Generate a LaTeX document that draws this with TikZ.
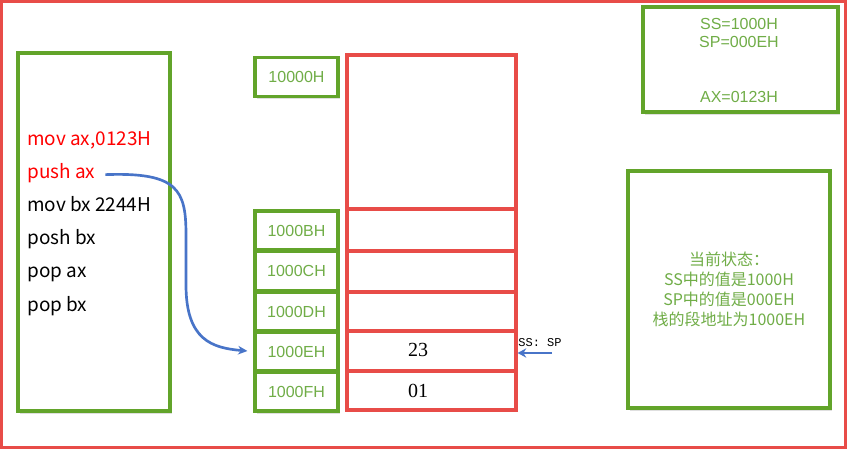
\documentclass[tikz,border=0pt]{standalone}
\usepackage{fontspec}
\setmainfont{Liberation Sans}
\setmonofont{Liberation Mono}
\newfontfamily\cjk{Noto Sans CJK SC}
\newfontfamily\numfont{Liberation Serif}
\usetikzlibrary{arrows.meta,shadows}

\definecolor{frame red}{RGB}{232,76,72}
\definecolor{box green}{RGB}{98,164,42}
\definecolor{txt green}{RGB}{112,173,71}
\definecolor{arrow blue}{RGB}{72,116,200}

\begin{document}
\begin{tikzpicture}[x=0.75pt,y=-0.75pt,
	boxwh/.style 2 args={minimum width=#1*0.75pt, minimum height=#2*0.75pt, inner sep=0pt},
	greenbox/.style={draw=box green, line width=2.4pt, fill=white,
		drop shadow={shadow xshift=1.5pt, shadow yshift=-2pt, opacity=.25}},
	addrbox/.style={greenbox, boxwh={83}{39}, text=txt green, font=\fontsize{12}{14}\selectfont},
	cell/.style={draw=frame red, line width=2.4pt},
	codeline/.style={anchor=base west, inner sep=0pt, font=\cjk\fontsize{14.2}{16}\selectfont},
	bluearrow/.style={draw=arrow blue, line width=2pt, -{Stealth[length=7pt,width=6.5pt]}}]
	\useasboundingbox (0,0) rectangle (847,449);
	% outer frame
	\draw[frame red, line width=2.4pt] (1.5,1.5) rectangle (845.5,447.5);
	% program listing
	\node[greenbox, boxwh={152}{358}] (code) at (94,232) {};
	\node[codeline, text=red] (l1) at (27,146) {mov ax,0123H};
	\node[codeline, text=red] (l2) at (27,179) {push ax};
	\node[codeline] (l3) at (27,212) {mov bx 2244H};
	\node[codeline] (l4) at (27,245) {posh bx};
	\node[codeline] (l5) at (27,278) {pop ax};
	\node[codeline] (l6) at (27,311) {pop bx};
	% stack cells
	\node[cell, boxwh={169}{154}] (c0) at (431.5,132) {};
	\node[cell, boxwh={169}{42}] (c1) at (431.5,230) {};
	\node[cell, boxwh={169}{41}] (c2) at (431.5,271.5) {};
	\node[cell, boxwh={169}{39}] (c3) at (431.5,311.5) {};
	\node[cell, boxwh={169}{40}] (c4) at (431.5,351) {};
	\node[cell, boxwh={169}{39}] (c5) at (431.5,390.5) {};
	\node[font=\numfont\fontsize{15}{17}\selectfont] (v23) at (418,350) {23};
	\node[font=\numfont\fontsize{15}{17}\selectfont] (v01) at (418,391) {01};
	% addresses
	\node[addrbox] (a0) at (296.5,77) {10000H};
	\node[addrbox] (aB) at (296.5,230.5) {1000BH};
	\node[addrbox] (aC) at (296.5,271) {1000CH};
	\node[addrbox] (aD) at (296.5,311.5) {1000DH};
	\node[addrbox] (aE) at (296.5,351.5) {1000EH};
	\node[addrbox] (aF) at (296.5,391.5) {1000FH};
	% push ax -> 1000EH
	\draw[bluearrow, shorten >=4.5pt] (l2.east) ++(10,1)
		.. controls (178,172) and (186,190) .. (186,235)
		-- (186,285) .. controls (186,340) and (212,348) .. (aE.west);
	% stack pointer
	\node[font=\ttfamily\fontsize{9}{10}\selectfont, inner sep=0pt] (sp) at (540,343) {SS: SP};
	\coordinate (spfrom) at (552,353);
	\draw[bluearrow, line width=2pt, -{Stealth[length=6.5pt,width=7pt]}] (spfrom) -- (c4.east |- spfrom);
	% registers
	\node[greenbox, boxwh={195}{105}] (regs) at (740.5,59.5) {};
	\node[text=txt green, inner sep=0pt, font=\fontsize{12}{14}\selectfont] (ss) at (739,24) {SS=1000H};
	\node[text=txt green, inner sep=0pt, font=\fontsize{12}{14}\selectfont] (spv) at (739,42) {SP=000EH};
	\node[text=txt green, inner sep=0pt, font=\fontsize{12}{14}\selectfont] (ax) at (739,97) {AX=0123H};
	% current state
	\node[greenbox, boxwh={202}{237}, text=txt green, align=center,
		font=\cjk\fontsize{12}{15}\selectfont] (state) at (729,289.5)
		{当前状态：\\SS中的值是1000H\\SP中的值是000EH\\栈的段地址为1000EH};
\end{tikzpicture}
\end{document}
